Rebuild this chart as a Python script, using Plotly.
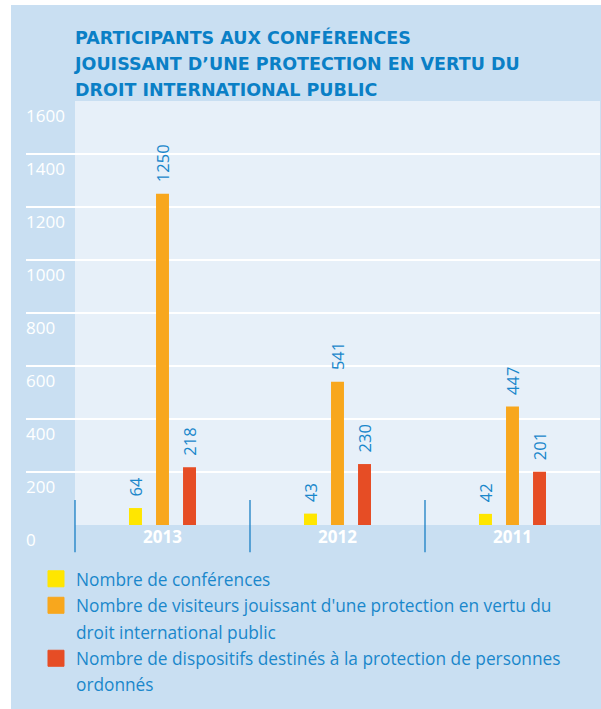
import plotly.graph_objects as go

years = ["2013", "2012", "2011"]
conferences = [64, 43, 42]
visiteurs = [1250, 541, 447]
dispositifs = [218, 230, 201]
y_ticks = [0, 200, 400, 600, 800, 1000, 1200, 1400, 1600]

legend_lines = [
    ["Nombre de conférences"],
    ["Nombre de visiteurs jouissant d'une protection en vertu du", "droit international public"],
    ["Nombre de dispositifs destinés à la protection de personnes", "ordonnés"],
]
title_lines = [
    "PARTICIPANTS AUX CONFÉRENCES",
    "JOUISSANT D’UNE PROTECTION EN VERTU DU",
    "DROIT INTERNATIONAL PUBLIC",
]
colors = ["#ffe600", "#f8a71d", "#e64d25"]
series = [conferences, visiteurs, dispositifs]

PANEL = "#c9dff2"
LIGHT = "#e7f0f9"
TXT = "#1a87cb"
TITLE = "#0a7fc6"
FONT = "Open Sans"

xpos = list(range(len(years)))

fig = go.Figure()
for vals, col in zip(series, colors):
    fig.add_trace(go.Bar(
        x=xpos, y=vals, marker=dict(color=col, line=dict(width=0)),
        texttemplate="\u00a0\u00a0%{y}", textposition="outside", textangle=-90,
        constraintext="none", cliponaxis=False,
        textfont=dict(color=TXT, size=16.5, family=FONT),
        showlegend=False, hoverinfo="skip",
    ))
g = 0
for lines, col in zip(legend_lines, colors):
    for k, line in enumerate(lines):
        c = col if k == 0 else "rgba(0,0,0,0)"
        fig.add_trace(go.Scatter(
            x=[None], y=[None], mode="markers", name=line, legendgroup=f"g{g}",
            marker=dict(symbol="square", size=16, color=c, line=dict(width=1 if k == 0 else 0, color=c)),
        ))
        g += 1

shapes = [
    # white page margin left and top of the blue panel
    dict(type="rect", xref="paper", yref="paper", x0=-0.2, x1=-0.0261, y0=-1, y1=2,
         fillcolor="white", line=dict(width=0), layer="below"),
    dict(type="rect", xref="paper", yref="paper", x0=-0.2, x1=1.2, y0=1.2264, y1=2,
         fillcolor="white", line=dict(width=0), layer="below"),
    dict(type="rect", xref="x", yref="y", x0=-0.5, x1=len(years) - 0.5, y0=0, y1=1600,
         fillcolor=LIGHT, line=dict(width=0), layer="below"),
]
for i in xpos:
    shapes.append(dict(type="line", xref="x", yref="paper", x0=i - 0.5, x1=i - 0.5,
                       y0=-0.064, y1=0.059, line=dict(color="#1a7fc4", width=1.3), layer="above"))

title_text = "<br>".join(f"<span style='font-size:17.5px'>{l}</span>" for l in title_lines)

fig.update_layout(
    width=601, height=709,
    margin=dict(l=26, r=1, t=101, b=184, autoexpand=False),
    paper_bgcolor=PANEL, plot_bgcolor="rgba(0,0,0,0)",
    font=dict(family=FONT),
    barmode="group", bargap=0.537, bargroupgap=0.52,
    title=dict(
        text=title_text,
        font=dict(family="DejaVu Sans", size=20, color=TITLE, weight="bold"),
        x=0.0854, xanchor="left", xref="paper", y=1 - 44 / 709, yanchor="top", yref="container",
    ),
    xaxis=dict(
        range=[-0.78, 2.5], tickvals=xpos, ticktext=years, showgrid=False, zeroline=False,
        showline=False, ticks="", tickfont=dict(color="white", size=17, weight="bold", family=FONT),
        fixedrange=True,
    ),
    yaxis=dict(
        range=[0, 1600], tickvals=y_ticks, ticktext=[str(v) for v in y_ticks],
        showgrid=True, gridcolor="white", gridwidth=1.5, zeroline=False, showline=False,
        ticks="", ticklabelposition="inside bottom", ticklabeloverflow="allow",
        ticklabelshift=3, ticklabelstandoff=-3, fixedrange=True,
        tickfont=dict(color="white", size=17, family=FONT),
    ),
    legend=dict(
        x=0.0174, xanchor="left", y=-0.085, yanchor="top", bgcolor="rgba(0,0,0,0)",
        font=dict(color=TXT, size=17.3, family=FONT), itemsizing="trace",
        tracegroupgap=1,
    ),
    shapes=shapes,
)

fig.write_html(
    "out.html",
    config={"displayModeBar": False},
    post_script="document.body.style.margin='0px'; document.body.style.background='%s';" % PANEL,
)
